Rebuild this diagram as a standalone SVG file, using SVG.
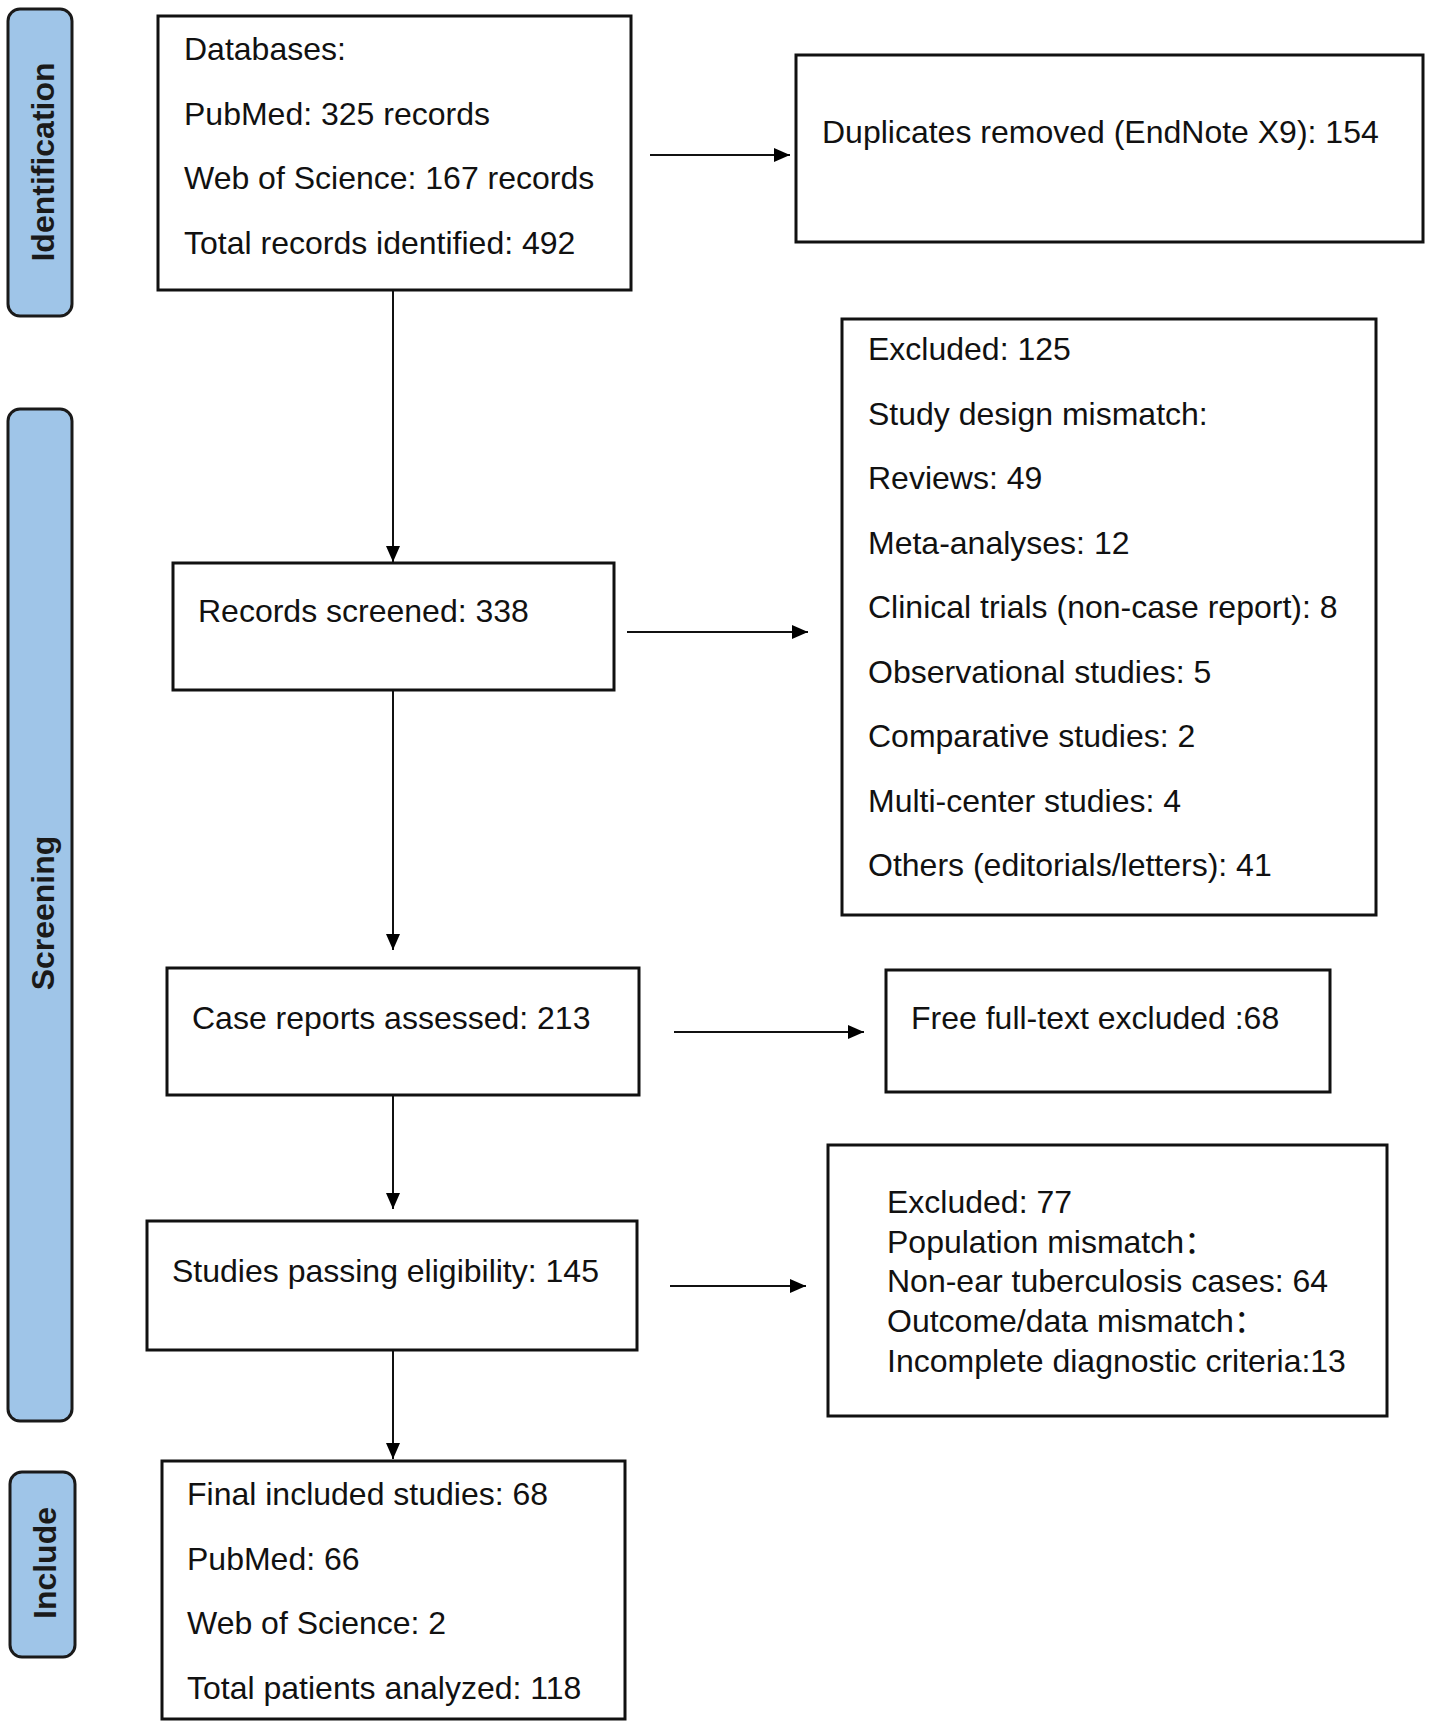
<svg xmlns="http://www.w3.org/2000/svg" width="1430" height="1728" viewBox="0 0 1430 1728">
<defs>
<marker id="ah" viewBox="0 0 16 14" refX="16" refY="7" markerWidth="16" markerHeight="14" markerUnits="userSpaceOnUse" orient="auto">
<path d="M0,0 L16,7 L0,14 z" fill="#000"/>
</marker>
<style>
.box{fill:#fff;stroke:#111;stroke-width:3}
.pill{fill:#9fc5e8;stroke:#1a1a1a;stroke-width:3}
.t{font-family:"Liberation Sans","Noto Sans CJK SC",Arial,sans-serif;font-size:32px;fill:#111}
.pt{font-family:"Liberation Sans",Arial,sans-serif;font-size:32px;font-weight:bold;fill:#1a1a1a;text-anchor:middle}
.c{stroke:#111;stroke-width:2;fill:none;marker-end:url(#ah)}
</style>
</defs>
<rect width="1430" height="1728" fill="#fff"/>

<g id="phase-identification">
<rect class="pill" x="8" y="9" width="64" height="307" rx="12"/>
<text class="pt" transform="translate(54,162) rotate(-90)">Identification</text>
</g>
<g id="phase-screening">
<rect class="pill" x="8" y="409" width="64" height="1012" rx="12"/>
<text class="pt" transform="translate(54,913) rotate(-90)">Screening</text>
</g>
<g id="phase-include">
<rect class="pill" x="10" y="1472" width="65" height="185" rx="12"/>
<text class="pt" transform="translate(56,1563) rotate(-90)">Include</text>
</g>

<g id="databases">
<rect class="box" x="158" y="16" width="473" height="274"/>
<text class="t" x="184" y="60">Databases:</text>
<text class="t" x="184" y="124.5">PubMed: 325 records</text>
<text class="t" x="184" y="189">Web of Science: 167 records</text>
<text class="t" x="184" y="253.5">Total records identified: 492</text>
</g>
<g id="duplicates">
<rect class="box" x="796" y="55" width="627" height="187"/>
<text class="t" x="822" y="143">Duplicates removed (EndNote X9): 154</text>
</g>
<g id="screened">
<rect class="box" x="173" y="563" width="441" height="127"/>
<text class="t" x="198" y="622">Records screened: 338</text>
</g>
<g id="excluded125">
<rect class="box" x="842" y="319" width="534" height="596"/>
<text class="t" x="868" y="360">Excluded: 125</text>
<text class="t" x="868" y="424.5">Study design mismatch:</text>
<text class="t" x="868" y="489">Reviews: 49</text>
<text class="t" x="868" y="553.5">Meta-analyses: 12</text>
<text class="t" x="868" y="618">Clinical trials (non-case report): 8</text>
<text class="t" x="868" y="682.5">Observational studies: 5</text>
<text class="t" x="868" y="747">Comparative studies: 2</text>
<text class="t" x="868" y="811.5">Multi-center studies: 4</text>
<text class="t" x="868" y="876">Others (editorials/letters): 41</text>
</g>
<g id="assessed">
<rect class="box" x="167" y="968" width="472" height="127"/>
<text class="t" x="192" y="1029">Case reports assessed: 213</text>
</g>
<g id="freefulltext">
<rect class="box" x="886" y="970" width="444" height="122"/>
<text class="t" x="911" y="1029">Free full-text excluded :68</text>
</g>
<g id="eligibility">
<rect class="box" x="147" y="1221" width="490" height="129"/>
<text class="t" x="172" y="1282">Studies passing eligibility: 145</text>
</g>
<g id="excluded77">
<rect class="box" x="828" y="1145" width="559" height="271"/>
<text class="t" x="887" y="1213">Excluded: 77</text>
<text class="t" x="887" y="1253">Population mismatch：</text>
<text class="t" x="887" y="1292">Non-ear tuberculosis cases: 64</text>
<text class="t" x="887" y="1332">Outcome/data mismatch：</text>
<text class="t" x="887" y="1372">Incomplete diagnostic criteria:13</text>
</g>
<g id="included">
<rect class="box" x="162" y="1461" width="463" height="258"/>
<text class="t" x="187" y="1505">Final included studies: 68</text>
<text class="t" x="187" y="1569.5">PubMed: 66</text>
<text class="t" x="187" y="1634">Web of Science: 2</text>
<text class="t" x="187" y="1698.5">Total patients analyzed: 118</text>
</g>

<g id="connectors">
<line class="c" x1="650" y1="155" x2="790" y2="155"/>
<line class="c" x1="393" y1="290" x2="393" y2="562"/>
<line class="c" x1="627" y1="632" x2="808" y2="632"/>
<line class="c" x1="393" y1="690" x2="393" y2="950"/>
<line class="c" x1="674" y1="1032" x2="864" y2="1032"/>
<line class="c" x1="393" y1="1095" x2="393" y2="1209"/>
<line class="c" x1="670" y1="1286" x2="806" y2="1286"/>
<line class="c" x1="393" y1="1350" x2="393" y2="1459"/>
</g>
</svg>
